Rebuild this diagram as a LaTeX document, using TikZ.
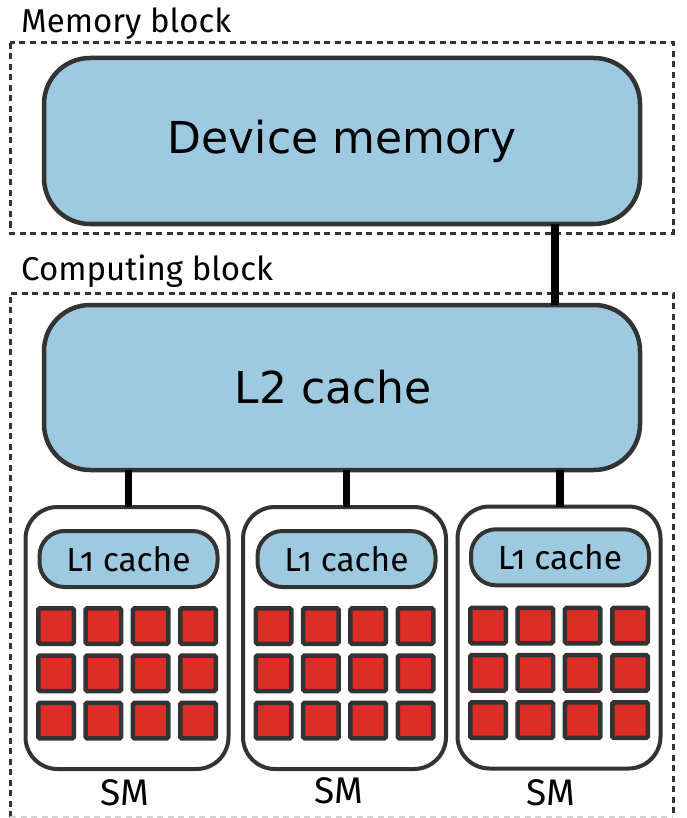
\documentclass[tikz,border=0pt]{standalone}
\usepackage{fontspec}
\setmainfont{Fira Sans}
\newfontfamily\labelfont{Fira Sans}[Numbers=OldStyle]
\newfontfamily\bigfont{DejaVu Sans}
\definecolor{cacheblue}{HTML}{9ECAE1}
\definecolor{corered}{HTML}{DE2D26}
\definecolor{edgegray}{HTML}{333333}
\begin{document}
\begin{tikzpicture}[x=1pt,y=-1pt,
  blockbox/.style={draw=edgegray, line width=3pt, dash pattern=on 6pt off 4.5pt},
  bigbox/.style={draw=edgegray, fill=cacheblue, line width=4.5pt, rounded corners=46pt,
    minimum width=596pt, minimum height=166pt, inner sep=0pt, outer sep=0pt,
    font=\bigfont\fontsize{44}{50}\selectfont},
  smbox/.style={draw=edgegray, fill=white, line width=4pt, rounded corners=32pt,
    minimum width=203pt, minimum height=262pt, inner sep=0pt, outer sep=0pt},
  lonebox/.style={draw=edgegray, fill=cacheblue, line width=4pt, rounded corners=25pt,
    minimum width=178pt, minimum height=56pt, inner sep=0pt, outer sep=0pt,
    font=\labelfont\fontsize{33.5}{40}\selectfont},
  core/.style={draw=edgegray, fill=corered, line width=4.5pt, minimum size=35.5pt,
    rounded corners=1.5pt, inner sep=0pt, outer sep=0pt},
  conn/.style={draw=black, line width=7.5pt},
  lbl/.style={font=\labelfont\fontsize{33}{40}\selectfont, inner sep=0pt},
  smlbl/.style={font=\labelfont\fontsize{37}{44}\selectfont, inner sep=0pt}
]
\useasboundingbox[fill=white] (0,0) rectangle (687,818);

% block outlines
\draw[blockbox] (10,43) rectangle (673,233);
\draw[blockbox] (10,817) -- (10,293) -- (673,293) -- (673,817);
\draw[blockbox, draw=gray!35, line width=1.5pt] (10,817) -- (673,817);
\node[lbl, anchor=base west] (memlbl) at (21,33) {Memory block};
\node[lbl, anchor=base west] (complbl) at (21,280) {Computing block};

% big boxes
\node[bigbox] (devmem) at (342,141) {Device memory};
\node[bigbox, minimum height=165pt] (ltwo) at (342,387.5) {};
\node[inner sep=0pt, font=\bigfont\fontsize{44}{50}\selectfont] (ltwotext) at (333,387.5) {L2 cache};

% SMs
\foreach \i/\cx/\cy/\lx/\ly in {1/127/638/128.5/559, 2/344.5/638/346.5/559, 3/559/637.5/560/557.3}{
  \node[smbox] (sm\i) at (\cx,\cy) {};
  \node[lonebox] (lone\i) at (\lx,\ly) {L1 cache};
  \foreach \r/\dy in {1/-12, 2/35.3, 3/82.6}{
    \foreach \c/\dx in {1/-71, 2/-23.7, 3/23.7, 4/71}{
      \node[core] (core\i\r\c) at (\cx+\dx,\cy+\dy) {};
    }
  }
}
\node[smlbl, anchor=base] (smlbl1) at (125,805) {SM};
\node[smlbl, anchor=base] (smlbl2) at (339,803) {SM};
\node[smlbl, anchor=base] (smlbl3) at (551,805) {SM};

% connectors
\draw[conn] ([xshift=213pt]devmem.south) -- ([xshift=213pt]ltwo.north);
\draw[conn] (ltwo.south -| lone1.north) -- (sm1.north -| lone1.north);
\draw[conn] (ltwo.south -| lone2.north) -- (sm2.north -| lone2.north);
\draw[conn] (ltwo.south -| lone3.north) -- (sm3.north -| lone3.north);
\end{tikzpicture}
\end{document}
